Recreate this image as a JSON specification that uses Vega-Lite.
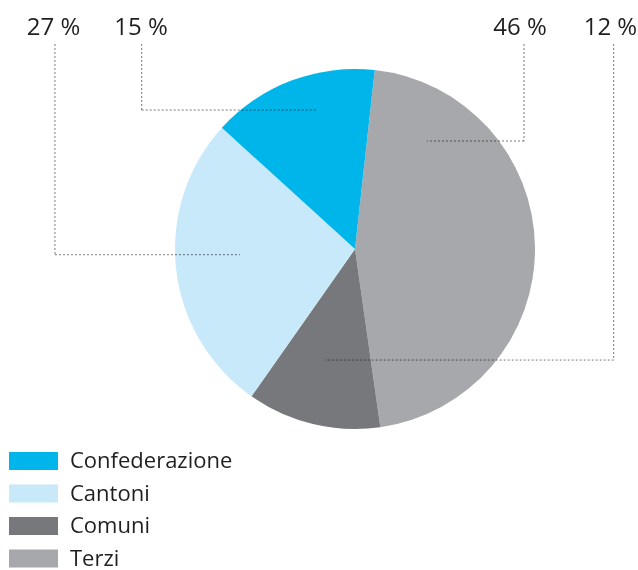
{
  "$schema": "https://vega.github.io/schema/vega-lite/v6.json",
  "width": 638,
  "height": 570,
  "autosize": "none",
  "padding": 0,
  "background": "white",
  "config": {"view": {"stroke": null}, "font": "Open Sans"},
  "data": {
    "values": [
      {"category": "Terzi", "percent": 46, "order": 1, "label": "46 %", "lineX": 0.939, "topY": 1.139, "elbowY": 0.6, "endX": 0.4, "textX": 0.917, "textY": 1.189},
      {"category": "Comuni", "percent": 12, "order": 2, "label": "12 %", "lineX": 1.437, "topY": 1.139, "elbowY": -0.617, "endX": -0.167, "textX": 1.419, "textY": 1.189},
      {"category": "Cantoni", "percent": 27, "order": 3, "label": "27 %", "lineX": -1.667, "topY": 1.139, "elbowY": -0.0317, "endX": -0.639, "textX": -1.675, "textY": 1.189},
      {"category": "Confederazione", "percent": 15, "order": 4, "label": "15 %", "lineX": -1.185, "topY": 1.139, "elbowY": 0.772, "endX": -0.211, "textX": -1.189, "textY": 1.189}
    ]
  },
  "layer": [
    {
      "mark": {"type": "rule", "strokeDash": [2, 2], "color": "#777777", "strokeWidth": 1},
      "encoding": {
        "x": {"field": "lineX", "type": "quantitative", "scale": {"domain": [-1.97222, 1.57222], "nice": false, "zero": false}, "axis": null},
        "y": {"field": "topY", "type": "quantitative", "scale": {"domain": [-1.78333, 1.38333], "nice": false, "zero": false}, "axis": null},
        "y2": {"field": "elbowY"}
      }
    },
    {
      "mark": {"type": "arc", "outerRadius": 180, "strokeWidth": 0, "x": {"expr": "scale('x', 0)"}, "y": {"expr": "scale('y', 0)"}},
      "encoding": {
        "theta": {"field": "percent", "type": "quantitative", "stack": true, "scale": {"range": [0.11, 6.3932]}},
        "order": {"field": "order", "type": "quantitative"},
        "color": {
          "field": "category",
          "type": "nominal",
          "scale": {
            "domain": ["Confederazione", "Cantoni", "Comuni", "Terzi"],
            "range": ["#00b5ea", "#c8e9f9", "#77787b", "#a7a8ab"]
          },
          "legend": {
            "title": null,
            "orient": "none",
            "legendX": 9,
            "legendY": 450,
            "padding": 0,
            "symbolType": "M-1,-0.367H1V0.367H-1Z",
            "symbolSize": 2401,
            "symbolStrokeWidth": 0,
            "symbolOpacity": 1,
            "clipHeight": 22,
            "rowPadding": 10.5,
            "labelOffset": 12,
            "labelFont": "Open Sans",
            "labelFontWeight": 400,
            "labelFontSize": 22,
            "labelColor": "#1f1f1f",
            "labelLimit": 400
          }
        }
      }
    },
    {
      "mark": {"type": "rule", "strokeDash": [2, 2], "color": "#7a7a7a", "strokeWidth": 1, "blend": "multiply"},
      "encoding": {
        "x": {"field": "lineX", "type": "quantitative"},
        "x2": {"field": "endX"},
        "y": {"field": "elbowY", "type": "quantitative"}
      }
    },
    {
      "mark": {"type": "text", "fontSize": 24, "fontWeight": 400, "font": "Open Sans", "color": "#1f1f1f", "align": "center", "baseline": "alphabetic"},
      "encoding": {
        "x": {"field": "textX", "type": "quantitative"},
        "y": {"field": "textY", "type": "quantitative"},
        "text": {"field": "label"}
      }
    }
  ]
}
